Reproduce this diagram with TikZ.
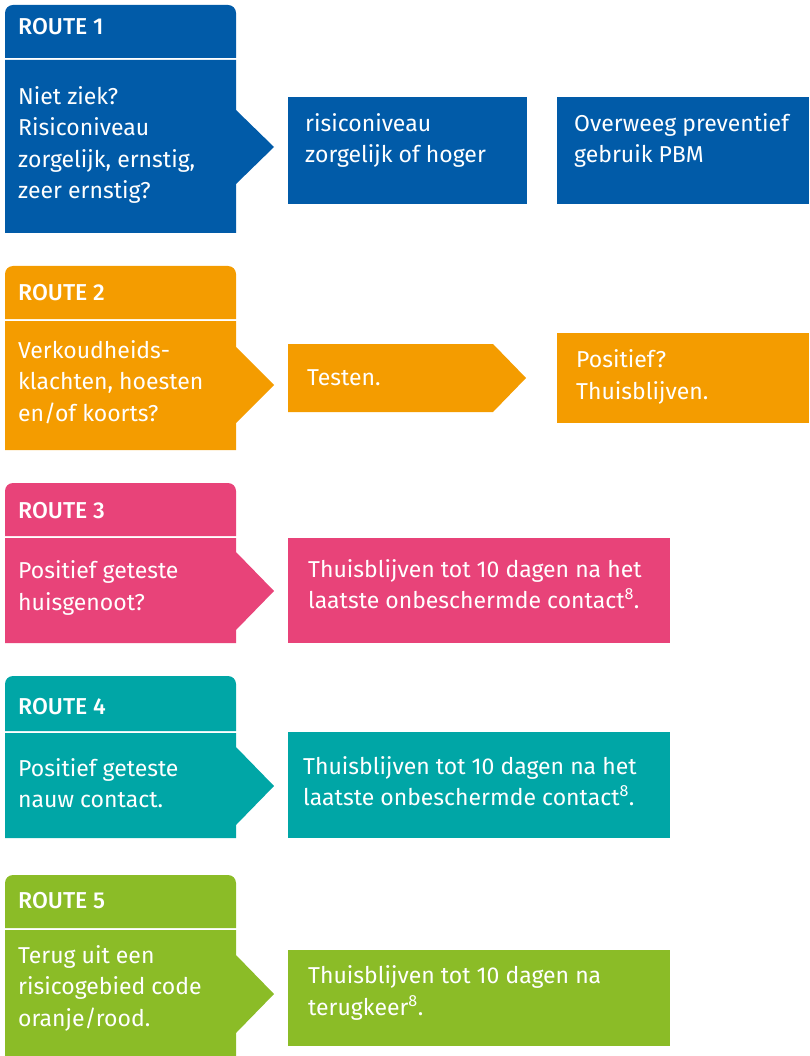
\documentclass[tikz,border=0pt]{standalone}
\usepackage{fontspec}
\setmainfont{Fira Sans}[BoldFont={Fira Sans Medium}]
\definecolor{routeblue}{HTML}{015BA8}
\definecolor{routeorange}{HTML}{F49C00}
\definecolor{routepink}{HTML}{E84379}
\definecolor{routeteal}{HTML}{00A6A6}
\definecolor{routegreen}{HTML}{8BBC27}
\begin{document}
\begin{tikzpicture}[x=1pt, y=-1pt,
	kop/.style={font=\fontsize{23}{30}\selectfont\bfseries, text=white, anchor=base west, inner sep=0pt},
	tekst/.style={font=\fontsize{23}{31.5}\selectfont, text=white, align=left, anchor=west, inner sep=0pt}]
		\useasboundingbox (0,0) rectangle (809,1056);
		
		% ROUTE 1
		\fill[routeblue] (5,58) [rounded corners=8] -- (5,5) -- (236,5) [sharp corners] -- (236,58) -- cycle;
		\node[kop] (kop1) at (18,35) {ROUTE 1};
		\fill[routeblue] (5,60) -- (236,60) -- (236,110) -- (274,147) -- (236,184) -- (236,233) -- (5,233) -- cycle;
		\node[tekst] (vraag1) at (18,145) {Niet ziek?\\Risiconiveau\\zorgelijk, ernstig,\\zeer ernstig?};
		\fill[routeblue] (288,97) rectangle (527,204);
		\node[tekst, anchor=north west] (stap1a) at (305,113) {risiconiveau\\zorgelijk of hoger};
		\fill[routeblue] (557,97) rectangle (809,204);
		\node[tekst, anchor=north west] (stap1b) at (574,113) {Overweeg preventief\\gebruik PBM};
		
		% ROUTE 2
		\fill[routeorange] (5,319) [rounded corners=8] -- (5,266) -- (236,266) [sharp corners] -- (236,319) -- cycle;
		\node[kop] (kop2) at (18,300) {ROUTE 2};
		\fill[routeorange] (5,321) -- (236,321) -- (236,347) -- (274,385) -- (236,423) -- (236,450) -- (5,450) -- cycle;
		\node[tekst] (vraag2) at (18,382) {Verkoudheids-\\klachten, hoesten\\en/of koorts?};
		\fill[routeorange] (288,344) -- (493,344) -- (526,378) -- (493,412) -- (288,412) -- cycle;
		\node[tekst] (stap2a) at (307,378) {Testen.};
		\fill[routeorange] (557,333) rectangle (809,423);
		\node[tekst] (stap2b) at (576,377) {Positief?\\Thuisblijven.};
		
		% ROUTE 3
		\fill[routepink] (5,536) [rounded corners=8] -- (5,483) -- (236,483) [sharp corners] -- (236,536) -- cycle;
		\node[kop] (kop3) at (18,518) {ROUTE 3};
		\fill[routepink] (5,538) -- (236,538) -- (236,552) -- (274,591) -- (236,630) -- (236,643) -- (5,643) -- cycle;
		\node[tekst] (vraag3) at (18,588) {Positief geteste\\huisgenoot?};
		\fill[routepink] (288,538) rectangle (670,643);
		\node[tekst] (stap3) at (308,584) {Thuisblijven tot 10 dagen na het\\laatste onbeschermde contact\textsuperscript{8}.};
		
		% ROUTE 4
		\fill[routeteal] (5,731) [rounded corners=8] -- (5,676) -- (236,676) [sharp corners] -- (236,731) -- cycle;
		\node[kop] (kop4) at (18,714) {ROUTE 4};
		\fill[routeteal] (5,733) -- (236,733) -- (236,747) -- (274,786) -- (236,825) -- (236,838) -- (5,838) -- cycle;
		\node[tekst] (vraag4) at (18,783) {Positief geteste\\nauw contact.};
		\fill[routeteal] (288,732) rectangle (670,838);
		\node[tekst] (stap4) at (303,781) {Thuisblijven tot 10 dagen na het\\laatste onbeschermde contact\textsuperscript{8}.};
		
		% ROUTE 5
		\fill[routegreen] (5,928) [rounded corners=8] -- (5,875) -- (236,875) [sharp corners] -- (236,928) -- cycle;
		\node[kop] (kop5) at (18,908) {ROUTE 5};
		\fill[routegreen] (5,930) -- (236,930) -- (236,955) -- (274,994) -- (236,1033) -- (236,1056) -- (5,1056) -- cycle;
		\node[tekst] (vraag5) at (18,988) {Terug uit een\\risicogebied code\\oranje/rood.};
		\fill[routegreen] (288,950) rectangle (670,1046);
		\node[tekst] (stap5) at (308,993) {Thuisblijven tot 10 dagen na\\terugkeer\textsuperscript{8}.};
	\end{tikzpicture}
\end{document}
